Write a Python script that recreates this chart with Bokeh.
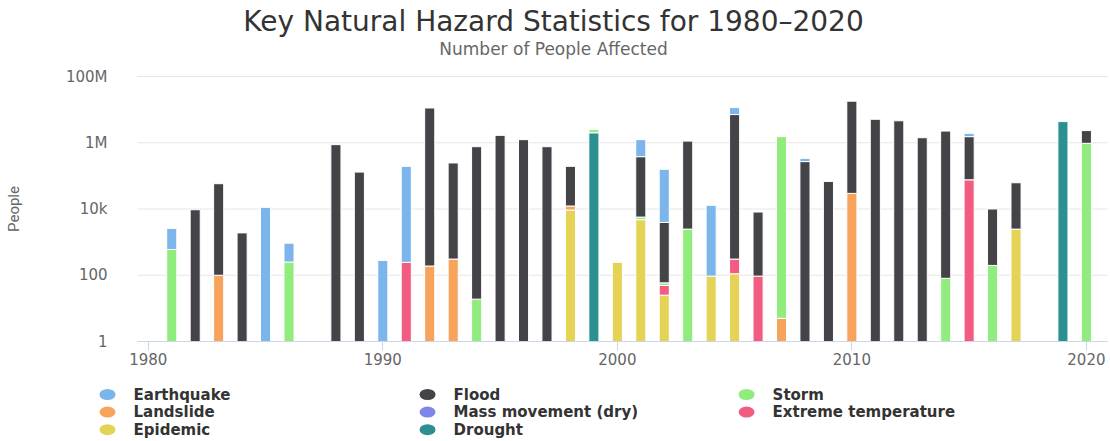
import math
import numpy as np
from bokeh.plotting import figure
from bokeh.models import ColumnDataSource, FixedTicker, Label, Range1d
from bokeh.core.properties import value
from bokeh.embed import file_html
from bokeh.resources import INLINE

# ---------------------------------------------------------------------------
# Number of people affected per hazard type and year (1980 ... 2020)
# ---------------------------------------------------------------------------
years = list(range(1980, 2021))

earthquake = [
    0, 2000, 0, 0, 0, 11200, 680, 0, 0, 0,                      # 1980s
    280, 193700, 0, 0, 0, 0, 0, 0, 0, 0,                        # 1990s
    0, 860000, 154000, 0, 12800, 4400000, 0, 0, 68000, 0,       # 2000s
    0, 0, 0, 0, 0, 390000, 0, 0, 0, 0,                          # 2010s
    0]                                                          # 2020
flood = [
    0, 0, 9500, 57900, 1900, 0, 0, 0, 875000, 130000,
    0, 0, 11200000, 245000, 760000, 1670000, 1240000, 760000, 181700, 0,
    0, 374300, 3890, 1117500, 0, 7100000, 8000, 0, 270000, 68000,
    17970000, 5100000, 4600000, 1420000, 2250000, 1454000, 9800, 59500, 0, 0,
    1370000]
storm = [
    0, 600, 0, 0, 0, 0, 250, 0, 0, 0,
    0, 0, 0, 0, 19, 0, 0, 0, 0, 500000,
    0, 950, 10, 2470, 0, 0, 0, 1530000, 0, 0,
    0, 0, 0, 0, 81, 0, 198, 0, 0, 0,
    960000]
landslide = [
    0, 0, 0, 100, 0, 0, 0, 0, 0, 0,
    0, 0, 190, 308, 0, 0, 0, 0, 3000, 0,
    0, 0, 0, 0, 0, 0, 0, 5, 0, 0,
    29600, 0, 0, 0, 0, 0, 0, 0, 0, 0,
    0]
mass_movement = [
    0, 0, 0, 0, 0, 0, 0, 0, 0, 0,
    0, 0, 0, 0, 0, 0, 0, 0, 0, 0,
    0, 0, 0, 0, 0, 0, 0, 0, 0, 0,
    0, 0, 0, 0, 0, 0, 0, 0, 0, 0,
    0]
extreme_temperature = [
    0, 0, 0, 0, 0, 0, 0, 0, 0, 0,
    0, 245, 0, 0, 0, 0, 0, 0, 0, 0,
    0, 0, 24, 0, 0, 197, 94, 0, 0, 0,
    0, 0, 0, 0, 0, 76000, 0, 0, 0, 0,
    0]
epidemic = [
    0, 0, 0, 0, 0, 0, 0, 0, 0, 0,
    0, 0, 0, 0, 0, 0, 0, 0, 9300, 0,
    245, 4750, 25, 0, 94, 111, 0, 0, 0, 0,
    0, 0, 0, 0, 0, 0, 0, 2470, 0, 0,
    0]
drought = [
    0, 0, 0, 0, 0, 0, 0, 0, 0, 0,
    0, 0, 0, 0, 0, 0, 0, 0, 0, 2000000,
    0, 0, 0, 0, 0, 0, 0, 0, 0, 0,
    0, 0, 0, 0, 0, 0, 0, 0, 0, 4350000,
    0]

series = {
    "Earthquake": (earthquake, "#7cb5ec"),
    "Flood": (flood, "#434348"),
    "Storm": (storm, "#90ed7d"),
    "Landslide": (landslide, "#f7a35c"),
    "Mass movement (dry)": (mass_movement, "#8085e9"),
    "Extreme temperature": (extreme_temperature, "#f15c80"),
    "Epidemic": (epidemic, "#e4d354"),
    "Drought": (drought, "#2b908f"),
}
# bottom-to-top order of the stacked segments
stack_order = ["Drought", "Epidemic", "Extreme temperature",
               "Mass movement (dry)", "Landslide", "Storm", "Flood", "Earthquake"]
# legend columns
legend_columns = [["Earthquake", "Landslide", "Epidemic"],
                  ["Flood", "Mass movement (dry)", "Drought"],
                  ["Storm", "Extreme temperature"]]

y_ticks = [1, 100, 10000, 1000000, 100000000]
y_tick_labels = {1: "1", 100: "100", 10000: "10k", 1000000: "1M", 100000000: "100M"}
x_ticks = [1980, 1990, 2000, 2010, 2020]

title_text = "Key Natural Hazard Statistics for 1980–2020"
subtitle_text = "Number of People Affected"

FONT = "DejaVu Sans"
W, H = 1110, 441

# plotting area: years 1979.54 .. 2020.9, people 1 .. 1e8;
# the canvas around it is reached by extending both ranges
X_LO, X_HI = 1979.54, 2020.9
px_per_year = 23.45
px_per_decade = 33.125
left_px, right_px, top_px, bottom_px = 137, 1107, 76, 341

x_range = Range1d(X_LO - left_px / px_per_year,
                  X_HI + (W - right_px) / px_per_year)
y_range = Range1d(10 ** (-(H - bottom_px) / px_per_decade),
                  10 ** (8 + top_px / px_per_decade))


def at_px(px, py):
    """Data coordinates of a canvas pixel position (for legend layout)."""
    return (x_range.start + px / px_per_year,
            10 ** (math.log10(y_range.start) + (H - py) / px_per_decade))


p = figure(width=W, height=H, y_axis_type="log", title=None,
           x_range=x_range, y_range=y_range,
           output_backend="svg", toolbar_location=None, tools="",
           min_border=0, min_border_left=0, min_border_right=0,
           min_border_top=0, min_border_bottom=0)
p.outline_line_color = None
p.grid.visible = False

# horizontal grid lines across the plotting area
p.segment(x0=X_LO, x1=X_HI, y0=y_ticks, y1=y_ticks,
          line_color="#e6e6e6", line_width=1)

# y axis pinned to the left edge of the plotting area
ya = p.yaxis[0]
ya.fixed_location = X_LO
ya.bounds = (1, 1e8)
ya.ticker = FixedTicker(ticks=y_ticks)
ya.major_label_overrides = y_tick_labels
ya.axis_line_color = None
ya.major_tick_out = 0
ya.major_tick_in = 0
ya.minor_tick_out = 0
ya.minor_tick_in = 0
ya.major_label_standoff = 30
ya.major_label_text_font = FONT
ya.major_label_text_font_size = "15px"
ya.major_label_text_color = "#666666"
ya.axis_label = "People"
ya.axis_label_text_font = "Roboto"
ya.axis_label_text_font_style = "normal"
ya.axis_label_text_font_size = "15px"
ya.axis_label_text_color = "#666666"
ya.axis_label_standoff = 40

# x axis pinned to the bottom of the plotting area
xa = p.xaxis[0]
xa.fixed_location = 1
xa.bounds = (X_LO, X_HI)
xa.ticker = FixedTicker(ticks=x_ticks)
xa.axis_line_color = "#ccd6eb"
xa.major_tick_line_color = "#ccd6eb"
xa.major_tick_out = 9
xa.major_tick_in = 0
xa.minor_tick_out = 0
xa.minor_tick_in = 0
xa.major_label_standoff = 2
xa.major_label_text_font = FONT
xa.major_label_text_font_size = "15px"
xa.major_label_text_color = "#666666"

# stacked columns (log axis: the lowest segment starts at the axis floor)
yrs = np.array(years, dtype=float)
cum = np.zeros(len(years))
for name in stack_order:
    vals, color = series[name]
    v = np.array(vals, dtype=float)
    bottom = np.where(cum > 0, cum, 1.0)
    top = cum + v
    mask = v > 0
    if mask.any():
        src = ColumnDataSource(dict(x=yrs[mask], bottom=bottom[mask], top=top[mask]))
        p.vbar(x="x", bottom="bottom", top="top", width=0.43, source=src,
               fill_color=color, line_color="white", line_width=1)
    cum = top

# legend: three columns of markers and bold labels under the axis
col_px = [107, 427, 746]
row_px = [394, 411.6, 429.2]
mx, my, tx, labels, colors = [], [], [], [], []
for c, names in enumerate(legend_columns):
    for r, name in enumerate(names):
        x_m, y_m = at_px(col_px[c], row_px[r])
        x_t, _ = at_px(col_px[c] + 26, row_px[r])
        mx.append(x_m)
        my.append(y_m)
        tx.append(x_t)
        labels.append(name)
        colors.append(series[name][1])
leg_src = ColumnDataSource(dict(mx=mx, my=my, tx=tx, label=labels, color=colors))
p.ellipse(x="mx", y="my", width=16, height=11, width_units="screen",
          height_units="screen", source=leg_src, fill_color="color",
          line_color=None)
p.text(x="tx", y="my", text="label", source=leg_src, text_align="left",
       text_baseline="middle", text_font=value(FONT), text_font_style="bold",
       text_font_size="15px", text_color="#333333")

# heading
p.add_layout(Label(x=553, y=H - 21, x_units="screen", y_units="screen",
                   text=title_text, text_align="center", text_baseline="middle",
                   text_font=FONT, text_font_size="28px", text_color="#333333"))
p.add_layout(Label(x=553, y=H - 48, x_units="screen", y_units="screen",
                   text=subtitle_text, text_align="center", text_baseline="middle",
                   text_font=FONT, text_font_size="17px", text_color="#666666"))

open("out.html", "w").write(file_html(p, INLINE))
